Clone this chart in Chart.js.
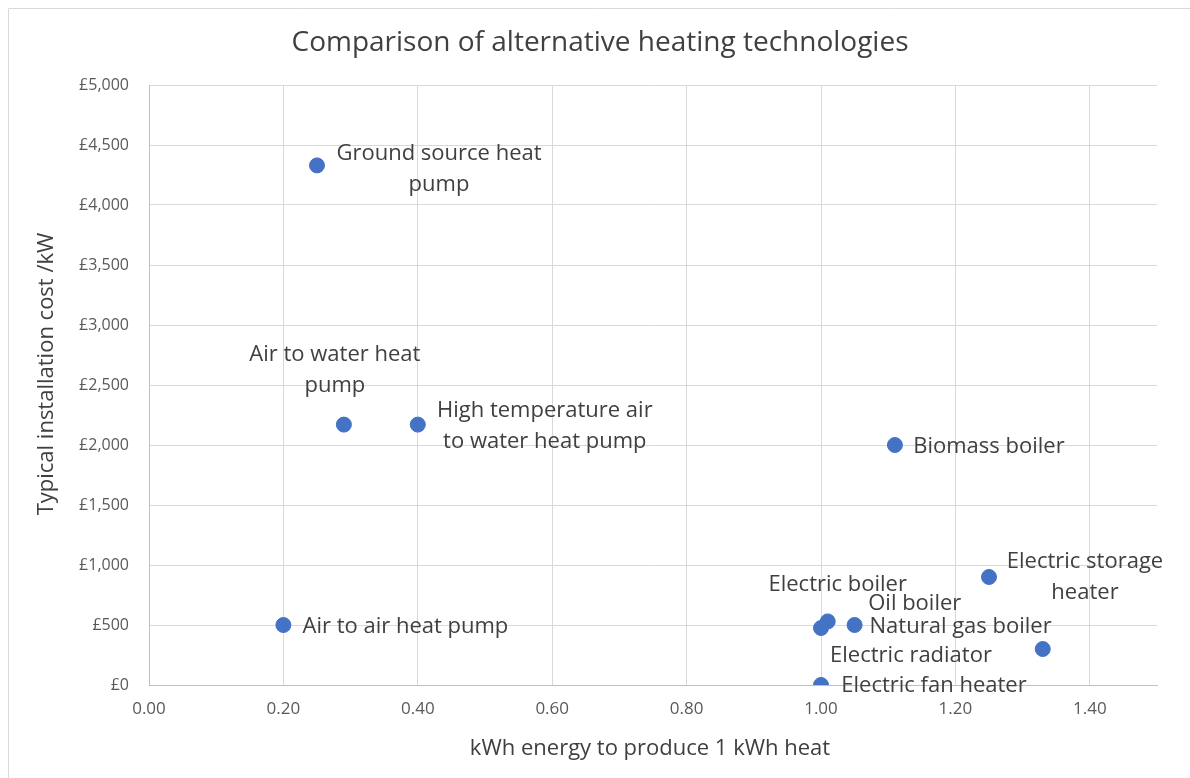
<!DOCTYPE html>
<html>
<head>
<meta charset="utf-8">
<script src="https://cdn.jsdelivr.net/npm/chart.js@4.4.1/dist/chart.umd.min.js"></script>
<style>
  html, body { margin: 0; padding: 0; background: #fff; }
  #wrap { width: 1190px; height: 778px; position: relative; }
</style>
</head>
<body>
<div id="wrap"><canvas id="chart"></canvas></div>
<script>
const technologies = [
  'Air to air heat pump',
  'Ground source heat pump',
  'Air to water heat pump',
  'High temperature air to water heat pump',
  'Biomass boiler',
  'Electric storage heater',
  'Oil boiler',
  'Natural gas boiler',
  'Electric boiler',
  'Electric radiator',
  'Electric fan heater'
];
const energyPerKwh = [0.20, 0.25, 0.29, 0.40, 1.11, 1.25, 1.33, 1.05, 1.01, 1.00, 1.00];
const costPerKw    = [500, 4330, 2170, 2170, 2000, 900, 300, 500, 530, 475, 0];

// wrapped label text, as it appears in the chart
const labelLines = [
  ['Air to air heat pump'],
  ['Ground source heat', 'pump'],
  ['Air to water heat', 'pump'],
  ['High temperature air', 'to water heat pump'],
  ['Biomass boiler'],
  ['Electric storage', 'heater'],
  ['Oil boiler'],
  ['Natural gas boiler'],
  ['Electric boiler'],
  ['Electric radiator'],
  ['Electric fan heater']
];
// label centre offset from its point, in pixels [dx, dy of first line]
const labelOffsets = [
  [122, 2], [122, -12], [-9, -70], [127, -14], [94, 2], [96, -15],
  [-128, -45], [106, 2], [10, -37], [90, 28], [113, 1]
];

const PLOT = { left: 149, right: 1157, top: 85, bottom: 685 };
const FONT = "'Open Sans', 'Noto Sans', sans-serif";

const points = energyPerKwh.map((x, i) => ({ x: x, y: costPerKw[i] }));

const decor = {
  id: 'decor',
  beforeDraw(chart) {
    const ctx = chart.ctx;
    ctx.save();
    ctx.fillStyle = '#fff';
    ctx.fillRect(0, 0, chart.width, chart.height);
    ctx.strokeStyle = '#d9d9d9';
    ctx.lineWidth = 1;
    ctx.beginPath();
    ctx.moveTo(8.5, chart.height);
    ctx.lineTo(8.5, 8.5);
    ctx.lineTo(chart.width, 8.5);
    ctx.stroke();
    ctx.restore();
  },
  afterDraw(chart) {
    const ctx = chart.ctx;
    ctx.save();
    ctx.fillStyle = '#404040';
    ctx.textAlign = 'center';
    ctx.textBaseline = 'middle';
    ctx.font = '28px ' + FONT;
    ctx.fillText('Comparison of alternative heating technologies', 600, 43);

    ctx.font = '22px ' + FONT;
    ctx.fillText('kWh energy to produce 1 kWh heat', 650, 749);
    ctx.save();
    ctx.translate(47, 374);
    ctx.rotate(-Math.PI / 2);
    ctx.fillText('Typical installation cost /kW', 0, 0);
    ctx.restore();

    // data labels
    const meta = chart.getDatasetMeta(0);
    meta.data.forEach((pt, i) => {
      const [dx, dy] = labelOffsets[i];
      labelLines[i].forEach((line, k) => {
        ctx.fillText(line, pt.x + dx, pt.y + dy + k * 31);
      });
    });
    ctx.restore();
  }
};

new Chart(document.getElementById('chart'), {
  type: 'scatter',
  data: {
    datasets: [{
      label: 'Technologies',
      data: points,
      backgroundColor: '#4472c4',
      borderColor: '#4472c4',
      pointRadius: 7.5,
      pointHoverRadius: 7.5
    }]
  },
  options: {
    responsive: true,
    maintainAspectRatio: false,
    animation: false,
    layout: { padding: { top: PLOT.top, right: 1190 - PLOT.right, left: 0, bottom: 0 } },
    plugins: {
      legend: { display: false },
      title: { display: false },
      tooltip: { enabled: false }
    },
    scales: {
      x: {
        type: 'linear',
        min: 0,
        max: 1.5,
        afterBuildTicks: scale => {
          scale.ticks = scale.ticks.filter(t => t.value <= 1.4001);
        },
        afterFit: scale => { scale.height = 778 - PLOT.bottom; },
        ticks: {
          stepSize: 0.2,
          color: '#595959',
          font: { family: FONT, size: 17 },
          padding: 14,
          callback: v => v.toFixed(2)
        },
        grid: { color: '#d9d9d9', drawTicks: false },
        border: { color: '#bfbfbf' }
      },
      y: {
        type: 'linear',
        min: 0,
        max: 5000,
        afterFit: scale => { scale.width = PLOT.left; },
        ticks: {
          stepSize: 500,
          color: '#595959',
          font: { family: FONT, size: 16 },
          padding: 20,
          callback: v => '£' + v.toLocaleString('en-GB')
        },
        grid: { color: '#d9d9d9', drawTicks: false },
        border: { color: '#bfbfbf' }
      }
    }
  },
  plugins: [decor]
});
</script>
</body>
</html>
